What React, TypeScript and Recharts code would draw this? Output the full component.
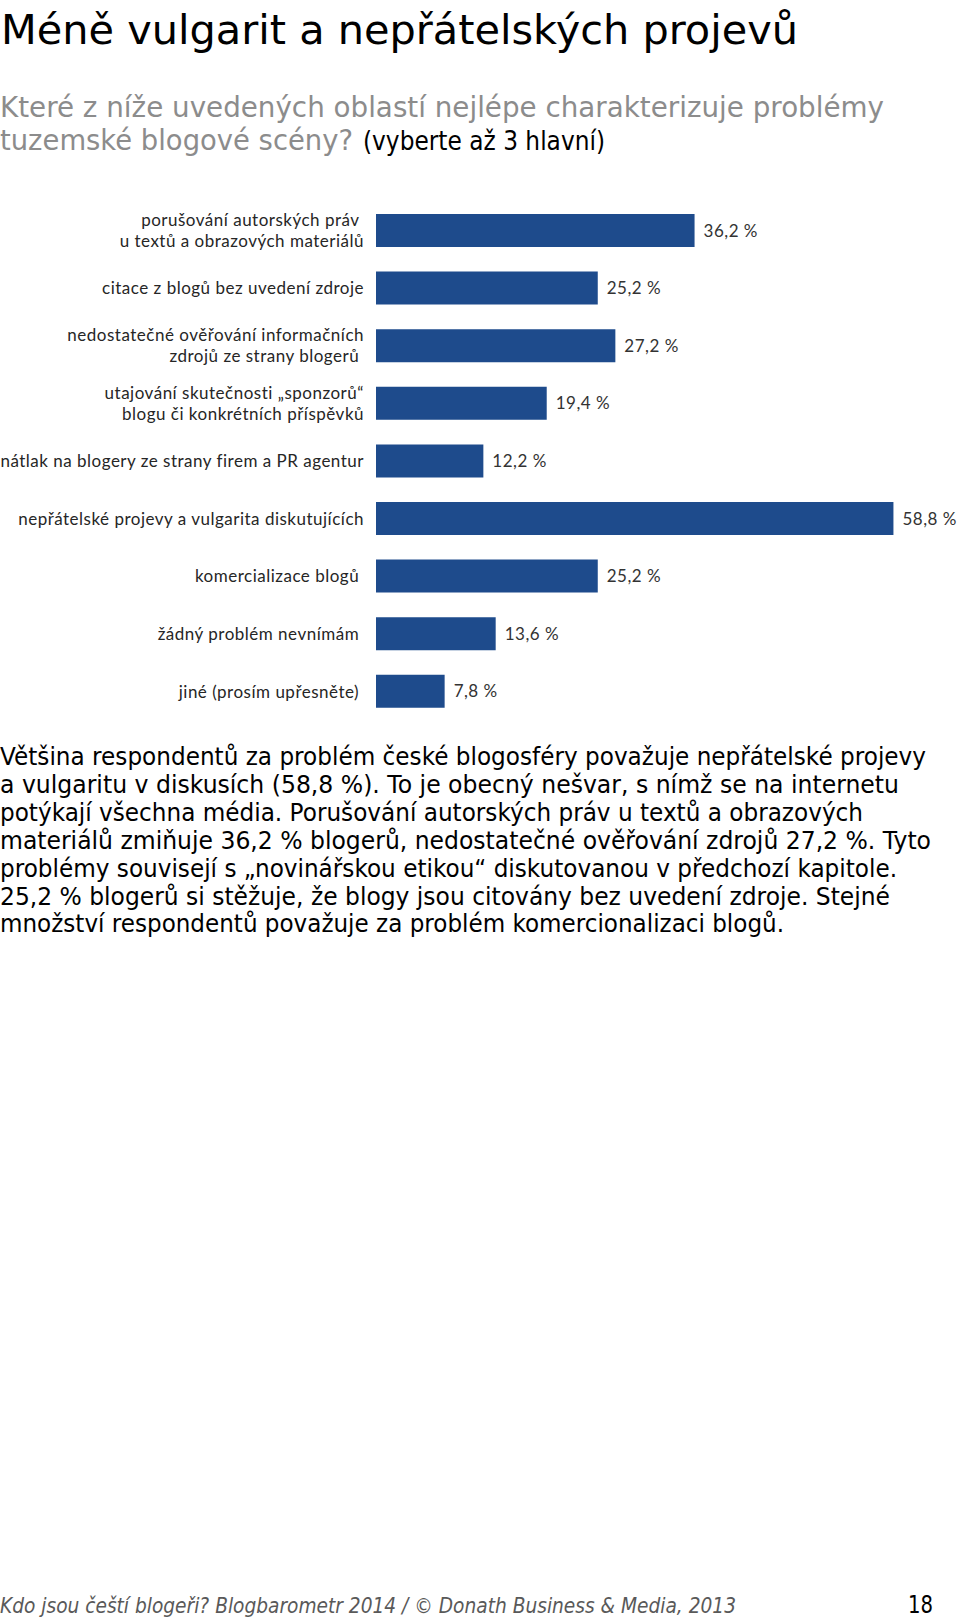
import { Bar, BarChart, LabelList, XAxis, YAxis } from "recharts";

// categories (line breaks as in the original legend)
const CATEGORIES = [
  "porušování autorských práv\u00a0\nu textů a obrazových materiálů",
  "citace z blogů bez uvedení zdroje",
  "nedostatečné ověřování informačních\nzdrojů ze strany blogerů\u00a0",
  "utajování skutečnosti „sponzorů“\nblogu či konkrétních příspěvků",
  "nátlak na blogery ze strany firem a PR agentur",
  "nepřátelské projevy a vulgarita diskutujících",
  "komercializace blogů\u00a0",
  "žádný problém nevnímám\u00a0",
  "jiné (prosím upřesněte)\u00a0",
];
const SHARES = [36.2, 25.2, 27.2, 19.4, 12.2, 58.8, 25.2, 13.6, 7.8];

const TITLE = "Méně vulgarit a nepřátelských projevů";
const QUESTION_LINES = [
  "Které z níže uvedených oblastí nejlépe charakterizuje problémy",
  "tuzemské blogové scény?",
];
const QUESTION_NOTE = "(vyberte až 3 hlavní)";
const BODY_LINES = [
  "Většina respondentů za problém české blogosféry považuje nepřátelské projevy",
  "a vulgaritu v diskusích (58,8 %). To je obecný nešvar, s nímž se na internetu",
  "potýkají všechna média. Porušování autorských práv u textů a obrazových",
  "materiálů zmiňuje 36,2 % blogerů, nedostatečné ověřování zdrojů 27,2 %. Tyto",
  "problémy souvisejí s „novinářskou etikou“ diskutovanou v předchozí kapitole.",
  "25,2 % blogerů si stěžuje, že blogy jsou citovány bez uvedení zdroje. Stejné",
  "množství respondentů považuje za problém komercionalizaci blogů.",
];
const FOOTER = "Kdo jsou čeští blogeři? Blogbarometr 2014 / © Donath Business & Media, 2013";
const PAGE_NUMBER = "18";

// measured line widths in the original page (px)
const BODY_WIDTHS = [926, 899, 863, 931, 897, 890, 784];

const BAR_COLOR = "#1e4b8c";
const LABEL_FONT = "Lato, 'Open Sans', sans-serif";
const PAGE_FONT = "'DejaVu Sans', Verdana, sans-serif";

const rows = CATEGORIES.map((name, i) => ({ name, share: SHARES[i] }));

const formatShare = (v: number) => v.toFixed(1).replace(".", ",") + " %";

function CategoryTick(props: any) {
  const { x, y, payload } = props;
  const lines = String(payload.value).split("\n");
  const lh = 21;
  const top = y - ((lines.length - 1) * lh) / 2;
  return (
    <text
      x={x - 4}
      y={top}
      textAnchor="end"
      fill="#262626"
      fontFamily={LABEL_FONT}
      fontSize={17}
      letterSpacing={0.5}
    >
      {lines.map((line, i) => (
        <tspan key={i} x={x - 4} dy={i === 0 ? "0.35em" : lh}>
          {line}
        </tspan>
      ))}
    </text>
  );
}

function PageText() {
  return (
    <svg width={960} height={1619} style={{ position: "absolute", left: 0, top: 0 }}>
      <text x={1} y={44} fontFamily={PAGE_FONT} fontSize={41} fill="#000" textLength={797} lengthAdjust="spacingAndGlyphs">
        {TITLE}
      </text>
      <text x={0} y={116.5} fontFamily={PAGE_FONT} fontSize={29} fill="#8c8c8c" textLength={884} lengthAdjust="spacingAndGlyphs">
        {QUESTION_LINES[0]}
      </text>
      <text x={0} y={149.5} fontFamily={PAGE_FONT} fontSize={29} fill="#8c8c8c" textLength={353} lengthAdjust="spacingAndGlyphs">
        {QUESTION_LINES[1]}
      </text>
      <text x={363} y={149.5} fontFamily={PAGE_FONT} fontSize={26} fill="#000" textLength={242} lengthAdjust="spacingAndGlyphs">
        {QUESTION_NOTE}
      </text>
      {BODY_LINES.map((line, i) => (
        <text
          key={i}
          x={0}
          y={765 + i * 27.9}
          fontFamily={PAGE_FONT}
          fontSize={24}
          fill="#000"
          textLength={BODY_WIDTHS[i]}
          lengthAdjust="spacingAndGlyphs"
        >
          {line}
        </text>
      ))}
      <text x={0} y={1613} fontFamily={PAGE_FONT} fontStyle="italic" fontSize={21} fill="#595959" textLength={736} lengthAdjust="spacingAndGlyphs">
        {FOOTER}
      </text>
      <text x={908} y={1613} fontFamily={PAGE_FONT} fontSize={24} fill="#000" textLength={25} lengthAdjust="spacingAndGlyphs">
        {PAGE_NUMBER}
      </text>
    </svg>
  );
}

export default function App() {
  return (
    <div style={{ position: "absolute", left: 0, top: 0, width: 960, height: 1619, background: "#fff", overflow: "hidden" }}>
      <PageText />
      <div style={{ position: "absolute", left: 0, top: 192 }}>
        <BarChart
          width={960}
          height={540}
          data={rows}
          layout="vertical"
          margin={{ top: 10, right: 56, bottom: 11.6, left: 0 }}
        >
          <XAxis type="number" domain={[0, 60]} hide />
          <YAxis
            type="category"
            dataKey="name"
            width={376}
            axisLine={false}
            tickLine={false}
            interval={0}
            tick={CategoryTick}
          />
          <Bar dataKey="share" fill={BAR_COLOR} barSize={33} isAnimationActive={false}>
            <LabelList
              dataKey="share"
              position="right"
              offset={9}
              fill="#333"
              fontSize={17}
              letterSpacing={0.5}
              fontFamily={LABEL_FONT}
              formatter={(v: any) => formatShare(Number(v))}
            />
          </Bar>
        </BarChart>
      </div>
    </div>
  );
}
